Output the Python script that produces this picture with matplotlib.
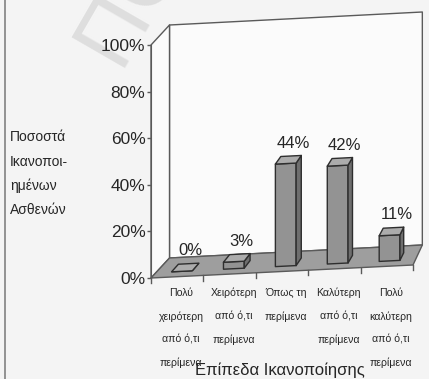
import matplotlib
matplotlib.use('Agg')
import matplotlib.pyplot as plt
from matplotlib import font_manager

# Satisfaction levels and share of patients (%)
categories = ['Πολύ\nχειρότερη\nαπό ό,τι\nπερίμενα',
              'Χειρότερη\nαπό ό,τι\nπερίμενα',
              'Όπως τη\nπερίμενα',
              'Καλύτερη\nαπό ό,τι\nπερίμενα',
              'Πολύ\nκαλύτερη\nαπό ό,τι\nπερίμενα']
percentages = [0, 3, 44, 42, 11]
value_ticks = [0, 20, 40, 60, 80, 100]
y_title_lines = ['Ποσοστά', 'Ικανοποι-', 'ημένων', 'Ασθενών']
x_title = 'Επίπεδα Ικανοποίησης'

# Figure size in pixels
W, H = 429, 379

# 3D box layout (pixels): front-left floor corner, size of one category,
# size of one percent, tilt of the floor, depth offset of the back wall
X0_PX, Y0_PX = 151, 278
CAT_PX = 52.4
PCT_PX = 2.33
TILT = (13.0 / 262) * CAT_PX / PCT_PX      # percent per category
DEPTH_X = 18.5 / CAT_PX
DEPTH_Y = 20.0 / PCT_PX
SHRINK = 0.035
BAR_Z0, BAR_Z1 = 0.27, 0.65
BAR_W = 0.4

names = {f.name for f in font_manager.fontManager.ttflist}
FONT = 'Liberation Sans Narrow' if 'Liberation Sans Narrow' in names else 'Liberation Sans'
plt.rcParams['font.family'] = [FONT, 'DejaVu Sans']

WALL = '#fbfbfb'
FLOOR = '#9e9e9e'
EDGE = '#5a5a5a'
BAR_FRONT = '#939393'
BAR_SIDE = '#6e6e6e'
BAR_TOP = '#acacac'
BAR_EDGE = '#2e2e2e'
TEXT = '#262626'


def proj(x, v, z):
    """category x, value v (%), depth z (0 front .. 1 back) -> data coords"""
    xs = x * (1 - SHRINK * z) + DEPTH_X * z
    ys = v + TILT * x + DEPTH_Y * z
    return xs, ys


def face(ax, pts, fc, ec, lw, zorder):
    xy = [proj(*p) for p in pts]
    xs, ys = zip(*xy)
    ax.fill(xs, ys, facecolor=fc, edgecolor=ec, linewidth=lw,
            joinstyle='round', zorder=zorder)


def fx(px):
    return px / W


def fy(py):
    return 1 - py / H


fig = plt.figure(figsize=(W / 100, H / 100), dpi=100)
fig.patch.set_facecolor('#f4f4f4')

ax = fig.add_axes([0, 0, 1, 1])
ax.patch.set_visible(False)
ax.set_xlim(-X0_PX / CAT_PX, (W - X0_PX) / CAT_PX)
ax.set_ylim(-(H - Y0_PX) / PCT_PX, Y0_PX / PCT_PX)

n = len(categories)

# walls and floor
face(ax, [(0, 0, 1), (n, 0, 1), (n, 100, 1), (0, 100, 1)], WALL, EDGE, 1.0, 1)
face(ax, [(0, 0, 0), (0, 0, 1), (0, 100, 1), (0, 100, 0)], WALL, EDGE, 1.0, 1)
face(ax, [(0, 0, 0), (n, 0, 0), (n, 0, 1), (0, 0, 1)], FLOOR, EDGE, 1.0, 2)

# category ticks on the front edge of the floor
for i in range(n + 1):
    x1, y1 = proj(i, 0, 0)
    ax.plot([x1, x1], [y1, y1 - 2.2], color=EDGE, lw=1.0, zorder=2)

# bars
for i, v in enumerate(percentages):
    xa = i + 0.5 - BAR_W / 2
    xb = i + 0.5 + BAR_W / 2
    face(ax, [(xa, 0, BAR_Z0), (xb, 0, BAR_Z0), (xb, v, BAR_Z0), (xa, v, BAR_Z0)],
         BAR_FRONT, BAR_EDGE, 1.0, 3)
    face(ax, [(xb, 0, BAR_Z0), (xb, 0, BAR_Z1), (xb, v, BAR_Z1), (xb, v, BAR_Z0)],
         BAR_SIDE, BAR_EDGE, 1.0, 3)
    face(ax, [(xa, v, BAR_Z0), (xb, v, BAR_Z0), (xb, v, BAR_Z1), (xa, v, BAR_Z1)],
         BAR_TOP, BAR_EDGE, 1.0, 3)
    ax.annotate('%d%%' % v, xy=proj(i + 0.5, v, 0.46), xytext=(3.5, 12),
                textcoords='offset points', ha='center', va='center',
                fontsize=12, color=TEXT, zorder=5)

# value axis on the front-left edge
for side in ['top', 'right', 'bottom']:
    ax.spines[side].set_visible(False)
ax.spines['left'].set_position(('data', 0))
ax.spines['left'].set_bounds(0, 100)
ax.spines['left'].set_color(EDGE)
ax.spines['left'].set_zorder(4)
ax.set_xticks([])
ax.set_yticks(value_ticks)
ax.set_yticklabels(['%d%%' % t for t in value_ticks])
ax.tick_params(axis='y', direction='out', length=3, width=1.0, color=EDGE,
               pad=1, labelsize=12.5, labelcolor=TEXT)

# category labels, each line on its own row
for i, label in enumerate(categories):
    cx, _ = proj(i + 0.5, 0, 0)
    for j, line in enumerate(label.split('\n')):
        t = ax.text(cx + 4 / CAT_PX, 0, line, transform=ax.get_xaxis_transform(),
                    ha='center', va='center', fontsize=7.6, color=TEXT)
        t.set_y(fy(293 + 23.3 * j))

# axis titles
for j, line in enumerate(y_title_lines):
    fig.text(fx(10), fy(137 + 24.5 * j), line, ha='left', va='center',
             fontsize=10, color=TEXT)
fig.text(fx(280), fy(370), x_title, ha='center', va='center',
         fontsize=12, color=TEXT)

# faint stamp in the top-left corner
fig.text(fx(118), fy(68), 'ΠΟ', rotation=60, rotation_mode='anchor',
         ha='left', va='baseline', fontsize=64, color='#dedede',
         family=['Liberation Sans', 'DejaVu Sans'], zorder=-1)

# left frame line
fig.add_artist(plt.Line2D([fx(5), fx(5)], [0, 1], color='#8a8a8a', lw=1.3))

fig.savefig('out.png', dpi=100, facecolor=fig.get_facecolor())
